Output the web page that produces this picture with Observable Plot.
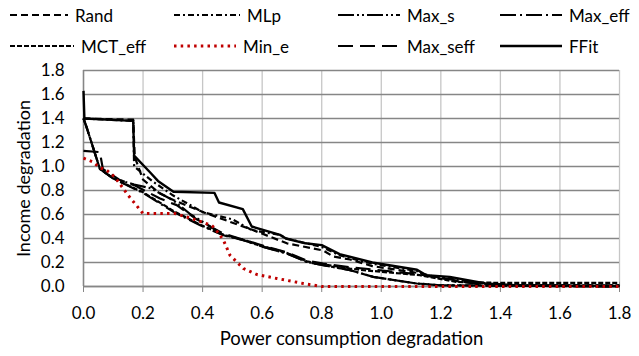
<!DOCTYPE html>
<html>
<head>
<meta charset="utf-8">
<script src="https://cdn.jsdelivr.net/npm/d3@7"></script>
<script src="https://cdn.jsdelivr.net/npm/@observablehq/plot@0.6"></script>
<style>
  html, body { margin: 0; padding: 0; background: #fff; }
  #wrap { width: 639px; height: 356px; position: relative; font-family: Lato, "Noto Sans", sans-serif; }
  #legend { position: relative; width: 639px; height: 60px; }
  .item { position: absolute; height: 20px; display: flex; align-items: center; font-size: 17px; color: #000; white-space: nowrap; }
  .item svg { display: block; margin-right: 7px; }
  #chart [aria-label="x-axis label"] text { font-size: 18.5px; }
  #chart [aria-label="y-axis label"] text { font-size: 18px; }
</style>
</head>
<body>
<div id="wrap">
  <div id="legend"></div>
  <div id="chart"></div>
</div>
<script>
// ---------- data ----------
const seriesNames = ["Rand", "MLp", "Max_s", "Max_eff", "MCT_eff", "Min_e", "Max_seff", "FFit"];

const xTicks = [0, 0.2, 0.4, 0.6, 0.8, 1.0, 1.2, 1.4, 1.6, 1.8];
const yTicks = [0, 0.2, 0.4, 0.6, 0.8, 1.0, 1.2, 1.4, 1.6, 1.8];

const randX = [0, 0.167, 0.172, 0.20, 0.257, 0.302, 0.414, 0.559, 0.683, 0.805, 0.839, 0.895, 0.97, 1.13, 1.25, 1.35, 1.45, 1.8];
const randY = [1.40, 1.39, 1.08, 0.89, 0.775, 0.72, 0.608, 0.48, 0.36, 0.30, 0.25, 0.225, 0.17, 0.11, 0.045, 0.02, 0.01, 0.01];

const mlpX = [0, 0.167, 0.17, 0.23, 0.30, 0.40, 0.50, 0.565, 0.66, 0.68, 0.80, 0.86, 0.97, 1.12, 1.15, 1.25, 1.35, 1.45, 1.8];
const mlpY = [1.40, 1.38, 1.00, 0.88, 0.76, 0.62, 0.56, 0.47, 0.43, 0.40, 0.33, 0.26, 0.19, 0.13, 0.09, 0.06, 0.02, 0.01, 0.01];

const maxSX = [0, 0.01, 0.055, 0.10, 0.17, 0.224, 0.30, 0.36, 0.40, 0.47, 0.537, 0.604, 0.683, 0.75, 0.805, 0.895, 0.973, 1.119, 1.20, 1.8];
const maxSY = [1.40, 1.33, 0.98, 0.90, 0.85, 0.82, 0.72, 0.60, 0.54, 0.43, 0.386, 0.33, 0.275, 0.205, 0.178, 0.136, 0.08, 0.025, 0.01, 0.0];

const maxEffX = [0, 0.01, 0.055, 0.10, 0.20, 0.302, 0.392, 0.47, 0.537, 0.604, 0.683, 0.75, 0.805, 0.895, 0.973, 1.119, 1.20, 1.8];
const maxEffY = [1.40, 1.33, 0.98, 0.90, 0.78, 0.622, 0.51, 0.427, 0.386, 0.33, 0.275, 0.205, 0.178, 0.136, 0.08, 0.025, 0.01, 0.0];

const mctEffX = [0, 0.01, 0.055, 0.10, 0.20, 0.302, 0.392, 0.47, 0.537, 0.604, 0.683, 0.75, 0.805, 0.895, 0.94, 1.13, 1.253, 1.40, 1.8];
const mctEffY = [1.40, 1.33, 0.98, 0.90, 0.785, 0.63, 0.515, 0.43, 0.39, 0.335, 0.28, 0.21, 0.185, 0.15, 0.136, 0.094, 0.038, 0.03, 0.03];

const minEX = [0, 0.03, 0.055, 0.077, 0.105, 0.15, 0.20, 0.307, 0.362, 0.43, 0.442, 0.47, 0.492, 0.537, 0.582, 0.649, 0.738, 0.80, 1.8];
const minEY = [1.07, 1.04, 0.99, 0.97, 0.913, 0.76, 0.608, 0.608, 0.567, 0.51, 0.483, 0.386, 0.26, 0.15, 0.10, 0.067, 0.025, 0.0, 0.0];

const maxSeffX = [0, 0.055, 0.065, 0.12, 0.17, 0.257, 0.313, 0.38, 0.47, 0.537, 0.604, 0.683, 0.75, 0.805, 0.895, 0.94, 1.13, 1.253, 1.35, 1.8];
const maxSeffY = [1.13, 1.12, 0.98, 0.89, 0.845, 0.733, 0.678, 0.56, 0.44, 0.39, 0.34, 0.285, 0.215, 0.19, 0.16, 0.15, 0.10, 0.05, 0.01, 0.0];

const ffitX = [0, 0.003, 0.167, 0.17, 0.224, 0.25, 0.302, 0.44, 0.455, 0.535, 0.565, 0.66, 0.68, 0.745, 0.80, 0.86, 0.97, 1.12, 1.15, 1.23, 1.35, 1.45, 1.8];
const ffitY = [1.63, 1.40, 1.38, 1.09, 0.95, 0.88, 0.79, 0.78, 0.70, 0.645, 0.50, 0.43, 0.40, 0.36, 0.345, 0.27, 0.20, 0.14, 0.095, 0.08, 0.025, 0.01, 0.005];

// ---------- styles ----------
const styles = {
  Rand:     {stroke: "#000", dash: "7,4", width: 2.2},
  MLp:      {stroke: "#000", dash: "6,3,2,3", width: 2.2},
  Max_s:    {stroke: "#000", dash: "16,3,2,3,2,3", width: 2.2},
  Max_eff:  {stroke: "#000", dash: "16,4,2,4", width: 2.2},
  MCT_eff:  {stroke: "#000", dash: "5,2", width: 2.2},
  Min_e:    {stroke: "#c00000", dash: "2.5,4.2", width: 3},
  Max_seff: {stroke: "#000", dash: "15,7", width: 2.2},
  FFit:     {stroke: "#000", dash: null, width: 2.4}
};

const seriesXY = {
  Rand: [randX, randY], MLp: [mlpX, mlpY], Max_s: [maxSX, maxSY], Max_eff: [maxEffX, maxEffY],
  MCT_eff: [mctEffX, mctEffY], Min_e: [minEX, minEY], Max_seff: [maxSeffX, maxSeffY], FFit: [ffitX, ffitY]
};
const rows = name => seriesXY[name][0].map((x, i) => ({x, y: seriesXY[name][1][i]}));

// ---------- legend ----------
const legendPos = {
  Rand: [10, 5, 58], MLp: [174, 5, 66], Max_s: [338, 5, 62], Max_eff: [500, 5, 62],
  MCT_eff: [10, 36, 64], Min_e: [174, 36, 62], Max_seff: [338, 36, 62], FFit: [500, 36, 62]
};
const legend = document.getElementById("legend");
for (const name of seriesNames) {
  const [lx, ly, len] = legendPos[name];
  const st = styles[name];
  const div = document.createElement("div");
  div.className = "item";
  div.style.left = lx + "px";
  div.style.top = ly + "px";
  const svg = d3.create("svg").attr("width", len).attr("height", 10);
  svg.append("line").attr("x1", 0).attr("x2", len).attr("y1", 5).attr("y2", 5)
    .attr("stroke", st.stroke).attr("stroke-width", st.width)
    .attr("stroke-dasharray", st.dash);
  div.appendChild(svg.node());
  const span = document.createElement("span");
  span.textContent = name;
  div.appendChild(span);
  legend.appendChild(div);
}

// ---------- chart ----------
const drawOrder = ["Max_eff", "MCT_eff", "Max_s", "Max_seff", "MLp", "Rand", "FFit", "Min_e"];

const chart = Plot.plot({
  width: 639,
  height: 296,
  marginLeft: 83,
  marginRight: 20,
  marginTop: 10,
  marginBottom: 70,
  style: {fontFamily: "Lato, 'Noto Sans', sans-serif", fontSize: "17px", color: "#000", background: "#fff"},
  x: {domain: [0, 1.8]},
  y: {domain: [0, 1.8]},
  marks: [
    Plot.gridX(xTicks, {stroke: "#c6c6c6", strokeOpacity: 1, strokeWidth: 1.3}),
    Plot.gridY(yTicks, {stroke: "#868686", strokeOpacity: 1, strokeWidth: 1.3}),
    Plot.ruleX([0], {stroke: "#868686", strokeWidth: 1.5}),
    Plot.ruleY([0], {stroke: "#868686", strokeWidth: 1.5}),
    Plot.axisX(xTicks, {
      tickSize: 6, tickPadding: 14, stroke: "#868686", tickFormat: d3.format(".1f"),
      label: "Power consumption degradation", labelAnchor: "center", labelOffset: 58, labelArrow: "none"
    }),
    Plot.axisY(yTicks, {
      tickSize: 0, tickPadding: 19, tickFormat: d3.format(".1f"),
      label: "Income degradation", labelAnchor: "center", labelOffset: 66, labelArrow: "none"
    }),
    ...drawOrder.map(name => Plot.line(rows(name), {
      x: "x", y: "y",
      stroke: styles[name].stroke,
      strokeWidth: styles[name].width,
      strokeDasharray: styles[name].dash || undefined,
      strokeLinecap: "butt",
      strokeLinejoin: "round"
    }))
  ]
});
document.getElementById("chart").appendChild(chart);
</script>
</body>
</html>
